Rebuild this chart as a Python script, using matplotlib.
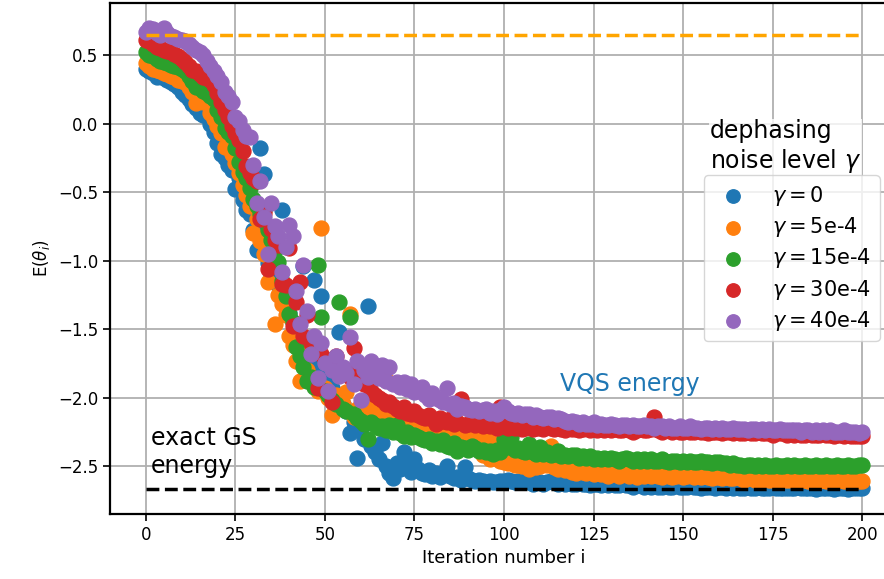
import numpy as np
import matplotlib.pyplot as plt

# energia por iteracion para cada nivel de ruido
e_g0 = [
    0.40, 0.38, 0.37, 0.34, 0.35, 0.33, 0.32, 0.30, 0.29, 0.27,
    0.23, 0.21, 0.18, 0.14, 0.11, 0.08, 0.06, 0.08, 0.00, -0.06,
    -0.14, -0.22, -0.25, -0.30, -0.34, -0.48, -0.40, -0.56, -0.63, -0.66,
    -0.78, -0.92, -0.18, -0.37, -1.02, -1.10, -1.12, -1.18, -0.63, -1.33,
    -1.38, -1.45, -1.52, -1.58, -1.04, -1.66, -1.70, -1.14, -1.78, -1.26,
    -1.85, -1.90, -1.93, -1.98, -1.52, -2.05, -2.10, -2.26, -2.18, -2.44,
    -2.22, -2.30, -1.33, -2.35, -2.40, -2.45, -2.33, -2.50, -2.55, -2.59,
    -2.48, -2.52, -2.40, -2.50, -2.54, -2.45, -2.52, -2.55, -2.56, -2.53,
    -2.57, -2.55, -2.58, -2.56, -2.50, -2.57, -2.59, -2.58, -2.60, -2.51,
    -2.59, -2.60, -2.61, -2.60, -2.61, -2.62, -2.61, -2.62, -2.62, -2.61,
    -2.61, -2.60, -2.61, -2.62, -2.61, -2.62, -2.61, -2.62, -2.63, -2.62,
    -2.62, -2.63, -2.62, -2.61, -2.62, -2.63, -2.62, -2.63, -2.62, -2.63,
    -2.63, -2.62, -2.63, -2.63, -2.64, -2.63, -2.63, -2.64, -2.63, -2.64,
    -2.63, -2.64, -2.64, -2.63, -2.64, -2.64, -2.65, -2.64, -2.64, -2.65,
    -2.64, -2.65, -2.64, -2.65, -2.65, -2.64, -2.65, -2.65, -2.64, -2.65,
    -2.65, -2.65, -2.64, -2.65, -2.65, -2.66, -2.65, -2.65, -2.65, -2.66,
    -2.65, -2.65, -2.66, -2.65, -2.66, -2.65, -2.66, -2.66, -2.65, -2.66,
    -2.66, -2.65, -2.66, -2.66, -2.66, -2.65, -2.66, -2.66, -2.66, -2.66,
    -2.66, -2.66, -2.65, -2.66, -2.66, -2.66, -2.66, -2.67, -2.66, -2.66,
    -2.66, -2.66, -2.67, -2.66, -2.66, -2.66, -2.67, -2.66, -2.66, -2.66,
    -2.66,
]

e_g5 = [
    0.44, 0.42, 0.40, 0.39, 0.38, 0.37, 0.36, 0.35, 0.34, 0.32,
    0.31, 0.30, 0.27, 0.23, 0.15, 0.19, 0.16, 0.22, 0.08, 0.03,
    -0.02, -0.07, -0.17, -0.15, -0.22, -0.29, -0.36, -0.45, -0.52, -0.60,
    -0.80, -0.70, -0.86, -0.95, -1.16, -1.05, -1.46, -1.25, -1.32, -1.40,
    -1.55, -1.62, -1.73, -1.88, -1.68, -1.80, -1.85, -1.90, -1.95, -0.76,
    -1.93, -2.00, -2.13, -1.98, -2.02, -2.05, -1.96, -1.39, -2.14, -2.08,
    -2.10, -2.12, -2.05, -2.15, -2.10, -2.12, -2.07, -1.87, -2.15, -2.18,
    -2.15, -2.16, -2.12, -2.18, -2.17, -2.20, -2.14, -2.19, -2.21, -2.20,
    -2.22, -2.21, -2.24, -2.23, -2.25, -2.27, -2.24, -2.26, -2.25, -2.26,
    -2.25, -2.28, -2.27, -2.29, -2.42, -2.30, -2.45, -2.29, -2.44, -2.46,
    -2.47, -2.48, -2.46, -2.49, -2.49, -2.50, -2.48, -2.52, -2.50, -2.51,
    -2.50, -2.47, -2.49, -2.35, -2.51, -2.52, -2.51, -2.53, -2.52, -2.54,
    -2.55, -2.53, -2.54, -2.55, -2.54, -2.56, -2.55, -2.56, -2.55, -2.57,
    -2.56, -2.55, -2.57, -2.56, -2.55, -2.57, -2.56, -2.58, -2.56, -2.57,
    -2.55, -2.57, -2.56, -2.57, -2.58, -2.56, -2.57, -2.58, -2.57, -2.56,
    -2.58, -2.57, -2.56, -2.58, -2.57, -2.58, -2.57, -2.58, -2.59, -2.58,
    -2.58, -2.59, -2.58, -2.59, -2.59, -2.58, -2.59, -2.60, -2.59, -2.59,
    -2.60, -2.59, -2.60, -2.59, -2.60, -2.60, -2.59, -2.60, -2.60, -2.60,
    -2.60, -2.60, -2.61, -2.60, -2.60, -2.61, -2.60, -2.60, -2.61, -2.60,
    -2.61, -2.60, -2.61, -2.61, -2.60, -2.61, -2.61, -2.61, -2.60, -2.61,
    -2.61,
]

e_g15 = [
    0.52, 0.50, 0.49, 0.47, 0.46, 0.45, 0.44, 0.43, 0.42, 0.41,
    0.40, 0.38, 0.35, 0.31, 0.27, 0.26, 0.24, 0.22, 0.20, 0.18,
    0.10, 0.05, -0.03, -0.06, -0.09, -0.18, -0.28, -0.35, -0.40, -0.47,
    -0.55, -0.60, -0.66, -0.63, -0.78, -0.85, -0.92, -1.01, -1.15, -1.26,
    -1.39, -1.45, -1.63, -1.70, -1.78, -1.88, -1.85, -1.92, -1.03, -1.41,
    -1.95, -1.98, -2.02, -2.05, -1.30, -2.08, -2.10, -1.41, -2.12, -2.15,
    -2.17, -2.19, -2.30, -2.18, -2.20, -2.22, -2.21, -2.24, -2.20, -2.25,
    -2.20, -2.26, -2.28, -2.25, -2.29, -2.27, -2.29, -2.30, -2.31, -2.30,
    -2.33, -2.32, -2.34, -2.31, -2.35, -2.36, -2.33, -2.39, -2.36, -2.37,
    -2.38, -2.35, -2.37, -2.39, -2.38, -2.40, -2.39, -2.41, -2.38, -2.40,
    -2.30, -2.36, -2.29, -2.38, -2.37, -2.39, -2.40, -2.34, -2.40, -2.41,
    -2.36, -2.41, -2.40, -2.42, -2.41, -2.39, -2.43, -2.42, -2.43, -2.42,
    -2.42, -2.44, -2.43, -2.44, -2.43, -2.45, -2.44, -2.45, -2.44, -2.45,
    -2.44, -2.45, -2.46, -2.45, -2.44, -2.45, -2.46, -2.45, -2.46, -2.45,
    -2.46, -2.45, -2.46, -2.46, -2.45, -2.46, -2.47, -2.46, -2.46, -2.47,
    -2.46, -2.47, -2.46, -2.47, -2.47, -2.46, -2.47, -2.47, -2.48, -2.47,
    -2.47, -2.48, -2.48, -2.49, -2.48, -2.49, -2.49, -2.50, -2.49, -2.49,
    -2.50, -2.49, -2.50, -2.49, -2.50, -2.50, -2.49, -2.50, -2.50, -2.49,
    -2.50, -2.49, -2.50, -2.50, -2.49, -2.50, -2.50, -2.49, -2.50, -2.50,
    -2.49, -2.50, -2.50, -2.49, -2.50, -2.50, -2.49, -2.50, -2.50, -2.49,
    -2.49,
]

e_g30 = [
    0.61, 0.60, 0.58, 0.56, 0.55, 0.54, 0.53, 0.52, 0.51, 0.49,
    0.47, 0.45, 0.42, 0.39, 0.38, 0.36, 0.34, 0.33, 0.32, 0.28,
    0.22, 0.16, 0.10, 0.05, -0.02, -0.07, -0.12, -0.20, -0.31, -0.36,
    -0.40, -0.42, -0.70, -0.65, -1.06, -0.77, -0.85, -0.89, -1.17, -1.18,
    -0.91, -1.48, -1.30, -1.16, -1.55, -1.40, -1.60, -1.65, -1.93, -1.68,
    -1.72, -1.74, -2.03, -1.70, -1.78, -1.82, -1.80, -1.85, -1.64, -1.88,
    -1.81, -1.90, -1.80, -1.95, -1.98, -2.00, -2.02, -2.05, -2.03, -2.06,
    -2.08, -2.10, -2.07, -2.11, -2.12, -2.10, -2.13, -2.14, -2.15, -2.13,
    -2.16, -2.19, -2.15, -2.17, -2.18, -2.16, -2.19, -2.18, -2.01, -2.20,
    -2.19, -2.18, -2.20, -2.19, -2.21, -2.20, -2.21, -2.19, -2.22, -2.07,
    -2.21, -2.22, -2.20, -2.22, -2.21, -2.23, -2.22, -2.21, -2.23, -2.22,
    -2.22, -2.23, -2.21, -2.22, -2.23, -2.22, -2.23, -2.24, -2.22, -2.23,
    -2.23, -2.24, -2.23, -2.22, -2.24, -2.23, -2.24, -2.23, -2.24, -2.23,
    -2.24, -2.23, -2.24, -2.24, -2.23, -2.24, -2.25, -2.24, -2.23, -2.24,
    -2.24, -2.23, -2.14, -2.24, -2.25, -2.24, -2.24, -2.25, -2.24, -2.25,
    -2.25, -2.24, -2.25, -2.25, -2.24, -2.25, -2.25, -2.26, -2.25, -2.25,
    -2.25, -2.26, -2.25, -2.25, -2.26, -2.25, -2.26, -2.26, -2.25, -2.26,
    -2.26, -2.25, -2.26, -2.26, -2.26, -2.27, -2.26, -2.26, -2.26, -2.27,
    -2.26, -2.27, -2.26, -2.27, -2.27, -2.26, -2.27, -2.27, -2.27, -2.26,
    -2.27, -2.27, -2.28, -2.27, -2.27, -2.28, -2.27, -2.28, -2.28, -2.28,
    -2.28,
]

e_g40 = [
    0.67, 0.70, 0.69, 0.66, 0.65, 0.70, 0.66, 0.64, 0.63, 0.62,
    0.61, 0.60, 0.58, 0.56, 0.54, 0.52, 0.50, 0.46, 0.42, 0.38,
    0.35, 0.30, 0.23, 0.20, 0.16, 0.05, 0.02, -0.05, -0.09, -0.10,
    -0.30, -0.58, -0.42, -0.68, -0.95, -0.58, -0.75, -0.82, -1.08, -0.90,
    -0.74, -0.82, -1.22, -1.46, -1.03, -1.37, -1.68, -1.55, -1.86, -1.60,
    -1.75, -1.95, -1.80, -1.70, -1.84, -1.78, -1.82, -1.56, -1.90, -1.73,
    -2.02, -1.80, -1.85, -1.73, -1.82, -1.86, -1.76, -1.88, -1.78, -1.90,
    -1.89, -1.92, -1.89, -1.94, -1.90, -1.96, -1.95, -1.92, -1.98, -2.01,
    -1.97, -2.00, -2.02, -2.03, -1.93, -2.05, -2.04, -2.08, -2.06, -2.07,
    -2.08, -2.09, -2.08, -2.10, -2.09, -2.08, -2.11, -2.10, -2.12, -2.09,
    -2.07, -2.10, -2.11, -2.12, -2.11, -2.13, -2.12, -2.12, -2.14, -2.13,
    -2.14, -2.15, -2.14, -2.14, -2.16, -2.15, -2.16, -2.17, -2.18, -2.17,
    -2.18, -2.19, -2.18, -2.19, -2.19, -2.18, -2.20, -2.19, -2.20, -2.20,
    -2.19, -2.20, -2.21, -2.20, -2.20, -2.21, -2.20, -2.21, -2.21, -2.20,
    -2.21, -2.21, -2.22, -2.21, -2.21, -2.22, -2.21, -2.22, -2.22, -2.21,
    -2.22, -2.22, -2.21, -2.22, -2.22, -2.23, -2.22, -2.22, -2.23, -2.22,
    -2.23, -2.22, -2.23, -2.23, -2.22, -2.23, -2.23, -2.23, -2.24, -2.23,
    -2.23, -2.24, -2.23, -2.24, -2.23, -2.24, -2.24, -2.23, -2.24, -2.24,
    -2.24, -2.24, -2.24, -2.25, -2.24, -2.24, -2.25, -2.24, -2.25, -2.24,
    -2.25, -2.24, -2.25, -2.25, -2.25, -2.24, -2.25, -2.25, -2.25, -2.26,
    -2.25,
]

series = [e_g0, e_g5, e_g15, e_g30, e_g40]
labels = [r'$\gamma = 0$', r'$\gamma = $5e-4', r'$\gamma = $15e-4',
          r'$\gamma = $30e-4', r'$\gamma = $40e-4']

e_inicial = 0.65   # energia del estado inicial
e_exacta = -2.67   # energia exacta del estado fundamental
n_iter = 200

fig = plt.figure(figsize=(8.84, 5.79), dpi=100)
ax = fig.add_axes([110 / 884, 65 / 579, 788 / 884, 511 / 579])

for datos, lab in zip(series, labels):
    it = np.arange(len(datos))
    ax.scatter(it, datos, s=115, label=lab, zorder=3)

ax.plot([0, n_iter], [e_inicial, e_inicial], '--', color='orange', lw=2.5, zorder=4)
ax.plot([0, n_iter], [e_exacta, e_exacta], '--', color='black', lw=2.5, zorder=4)

ax.text(1.5, -2.585, 'exact GS\nenergy', fontsize=17, va='bottom', ha='left')
ax.text(115.5, -1.955, 'VQS energy', fontsize=17, color='#1f77b4', va='baseline', ha='left')

ax.text(157.5, -0.375, 'dephasing\nnoise level $\\gamma$', fontsize=17, va='bottom', ha='left',
        zorder=5, bbox=dict(facecolor='white', edgecolor='none', alpha=0.8, pad=1))
ax.legend(loc='upper left', bbox_to_anchor=(0.74, 0.683), fontsize=15,
          labelspacing=0.35, handletextpad=0.9, borderpad=0.4, markerscale=0.9)

ax.set_xlim(-10, 210)
ax.set_ylim(-2.85, 0.88)
ax.set_xticks(np.arange(0, 201, 25))
ax.set_yticks([0.5, 0.0, -0.5, -1.0, -1.5, -2.0, -2.5])
ax.tick_params(labelsize=12, width=1.2, length=5)
ax.grid(True, color='#b0b0b0', lw=1.3)
ax.set_axisbelow(True)
for sp in ax.spines.values():
    sp.set_linewidth(1.6)

ax.set_xlabel('Iteration number i', fontsize=13)
ax.set_ylabel(r'E($\theta_i$)', fontsize=12)

fig.savefig('out.png', dpi=100)
